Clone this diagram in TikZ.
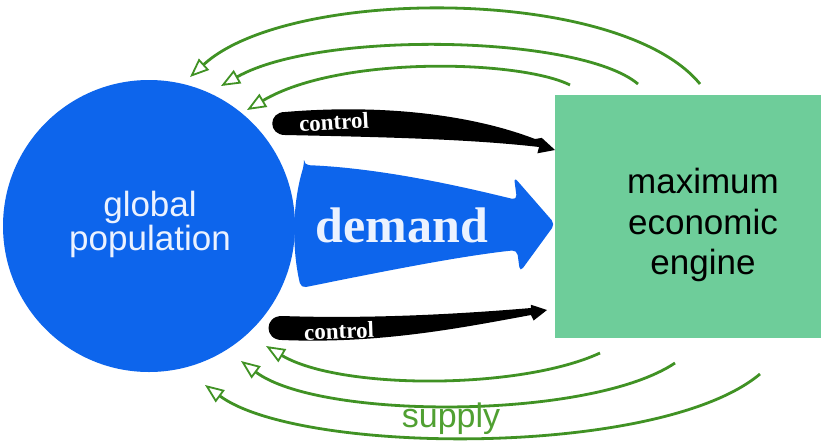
\documentclass[tikz,border=0pt]{standalone}
\usepackage{fontspec}
\setmainfont{Liberation Serif}
\setsansfont{Liberation Sans}
\usetikzlibrary{arrows.meta}
\definecolor{popblue}{RGB}{13,101,236}
\definecolor{enggreen}{RGB}{110,205,154}
\definecolor{arrgreen}{RGB}{64,146,36}
\definecolor{suptext}{RGB}{80,160,50}
\definecolor{lighttext}{RGB}{235,242,255}
\begin{document}
\begin{tikzpicture}[x=1pt,y=-1pt,
  supplyarrow/.style={draw=arrgreen,line width=2.8pt,
    -{Triangle[length=19pt,width=15pt,fill=white,line width=1.8pt]}},
  bigsans/.style={font=\sffamily\fontsize{35pt}{35pt}\selectfont},
  ctrltext/.style={font=\bfseries\fontsize{23pt}{23pt}\selectfont,text=white,inner sep=0pt},
  ctrlshape/.style={fill=black}]
\useasboundingbox (0,0) rectangle (821,445);
\fill[white] (0,0) rectangle (821,445);

% main shapes
\node[circle,fill=popblue,minimum size=292pt,inner sep=0pt] (pop) at (149,226) {};
\node[fill=enggreen,minimum width=266pt,minimum height=243pt,anchor=north west,inner sep=0pt] (eng) at (555,95) {};

\node[bigsans,text=lighttext,anchor=base] (popa) at (150,216) {global};
\node[bigsans,text=lighttext,anchor=base] (popb) at (150,250) {population};
\node[bigsans,text=black,anchor=base] (enga) at (703,193) {maximum};
\node[bigsans,text=black,anchor=base] (engb) at (703,234) {economic};
\node[bigsans,text=black,anchor=base] (engc) at (703,274) {engine};

% demand arrow
\fill[popblue,rounded corners=5pt] (304,165) .. controls (380,168) and (460,186) .. (517,200)
  -- (514,177) -- (555,224) -- (520,272) -- (517,250)
  .. controls (460,256) and (380,272) .. (301,288)
  .. controls (292,250) and (292,205) .. (304,165) -- cycle;
\node[font=\bfseries\fontsize{50pt}{50pt}\selectfont,text=lighttext,anchor=base] (dem) at (402,242) {demand};

% control arrows
\fill[ctrlshape] (285,112) .. controls (380,104) and (470,114) .. (535,139)
  -- (541.8,137.9) -- (555,150) -- (537.4,153.3) -- (539,147)
  .. controls (470,139) and (380,137) .. (285,135)
  .. controls (268,135) and (268,112) .. (285,112) -- cycle;
\node[ctrltext,rotate=3] (ctrla) at (334,122) {control};

\fill[ctrlshape] (282,316) .. controls (370,319) and (460,314) .. (531,308)
  -- (530.8,304.7) -- (547,310) -- (533.6,320.5) -- (531,315)
  .. controls (460,328) and (380,344) .. (282,340)
  .. controls (264,340) and (264,316) .. (282,316) -- cycle;
\node[ctrltext,rotate=2] (ctrlb) at (339,331) {control};

% supply arrows (top)
\coordinate (ta1) at (700,84);  \coordinate (tb1) at (190,77);
\coordinate (ta2) at (638,84);  \coordinate (tb2) at (221,86);
\coordinate (ta3) at (570,85);  \coordinate (tb3) at (247,110);
\draw[supplyarrow] (ta1) .. controls (620,-14) and (290,-14) .. (tb1);
\draw[supplyarrow] (ta2) .. controls (580,35) and (320,30) .. (tb2);
\draw[supplyarrow] (ta3) .. controls (520,60) and (340,55) .. (tb3);

% supply arrows (bottom)
\coordinate (ba1) at (600,353); \coordinate (bb1) at (266,346);
\coordinate (ba2) at (675,363); \coordinate (bb2) at (241,361);
\coordinate (ba3) at (760,374); \coordinate (bb3) at (205,385);
\draw[supplyarrow] (ba1) .. controls (520,390) and (340,390) .. (bb1);
\draw[supplyarrow] (ba2) .. controls (590,420) and (320,420) .. (bb2);
\draw[supplyarrow] (ba3) .. controls (660,458) and (300,455) .. (bb3);

\node[font=\sffamily\fontsize{34pt}{34pt}\selectfont,text=suptext,anchor=base] (sup) at (451,427) {supply};
\end{tikzpicture}
\end{document}
